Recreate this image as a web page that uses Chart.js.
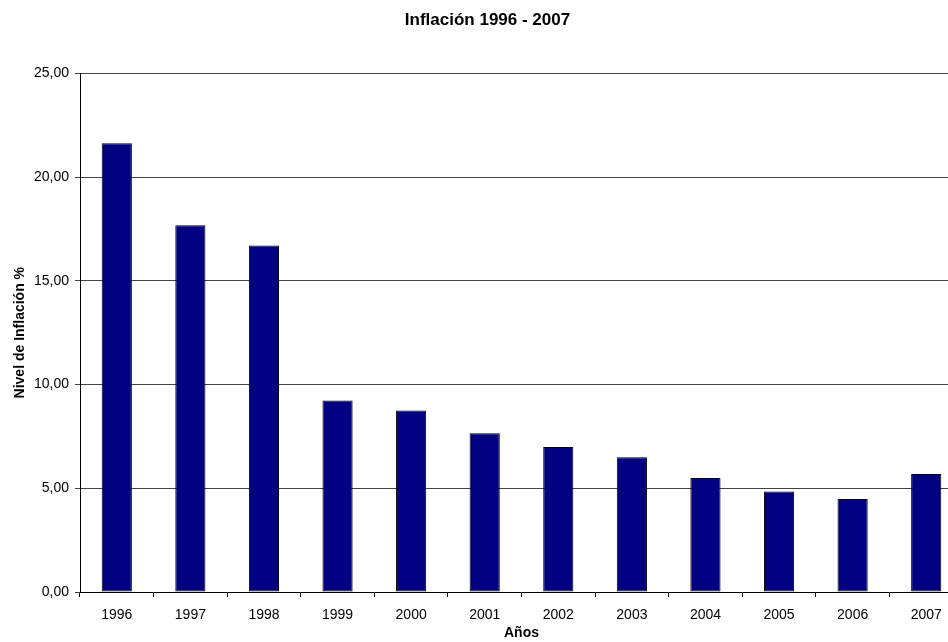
<!DOCTYPE html>
<html>
<head>
<meta charset="utf-8">
<script src="https://cdn.jsdelivr.net/npm/chart.js@4/dist/chart.umd.min.js"></script>
<style>
  html, body { margin: 0; padding: 0; background: #fff; overflow: hidden; }
  #wrap { width: 975px; height: 642px; }
</style>
</head>
<body>
<div id="wrap"><canvas id="inflacion" width="975" height="642"></canvas></div>
<script>
const years = ['1996', '1997', '1998', '1999', '2000', '2001', '2002', '2003', '2004', '2005', '2006', '2007'];
const inflation = [21.63, 17.68, 16.70, 9.23, 8.75, 7.65, 6.99, 6.49, 5.50, 4.85, 4.48, 5.69];
const yTicks = [0, 5, 10, 15, 20, 25];

Chart.defaults.font.family = '"Liberation Sans", Arial, sans-serif';
Chart.defaults.color = '#000';

const ctx = document.getElementById('inflacion').getContext('2d');

new Chart(ctx, {
  type: 'bar',
  data: {
    labels: years,
    datasets: [{
      label: 'Inflación',
      data: inflation,
      backgroundColor: '#000080',
      borderColor: '#000',
      borderWidth: 1,
      borderSkipped: false,
      categoryPercentage: 1,
      barPercentage: 0.41
    }]
  },
  options: {
    responsive: false,
    animation: false,
    layout: { padding: { left: 12, right: 12, top: 0, bottom: 0 } },
    scales: {
      x: {
        grid: { drawOnChartArea: false, drawTicks: true, tickLength: 5, color: '#000' },
        border: { color: '#000', width: 1 },
        ticks: { font: { size: 14 }, padding: 10, maxRotation: 0 },
        title: { display: true, text: 'Años', font: { size: 14, weight: 'bold' }, padding: 0 },
        afterFit: (scale) => { scale.height = 50; }
      },
      y: {
        min: 0,
        max: 25,
        afterBuildTicks: (scale) => { scale.ticks = yTicks.map(v => ({ value: v })); },
        grid: { color: '#444', tickLength: 5 },
        border: { color: '#000', width: 1 },
        ticks: {
          font: { size: 14 },
          padding: 6,
          callback: (v) => v.toFixed(2).replace('.', ',')
        },
        title: { display: true, text: 'Nivel de Inflación %', font: { size: 14, weight: 'bold' }, padding: 0 },
        afterFit: (scale) => { scale.width = 68; }
      }
    },
    plugins: {
      legend: { display: false },
      tooltip: { enabled: false },
      title: {
        display: true,
        text: 'Inflación 1996 - 2007',
        color: '#000',
        font: { size: 17, weight: 'bold' },
        padding: { top: 10, bottom: 43 }
      }
    }
  }
});
</script>
</body>
</html>
